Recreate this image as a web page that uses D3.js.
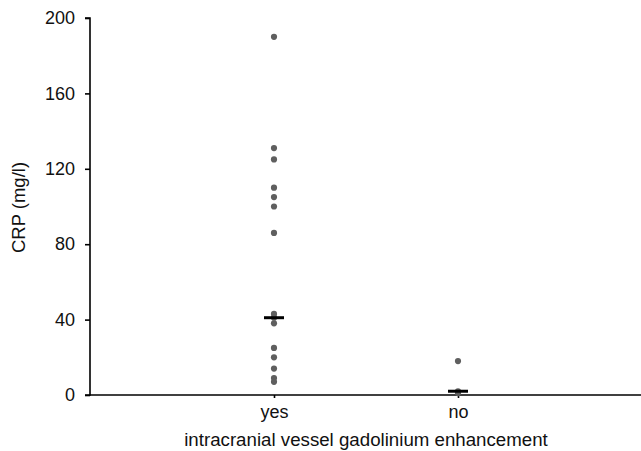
<!DOCTYPE html>
<html>
<head>
<meta charset="utf-8">
<script src="https://cdn.jsdelivr.net/npm/d3@7"></script>
<style>
html,body{margin:0;padding:0;background:#fff;}
svg{display:block;font-family:"Liberation Sans",Arial,sans-serif;}
</style>
</head>
<body>
<svg id="chart" width="641" height="451"></svg>
<script>
const categories = ["yes", "no"];
const yesValues = [190, 131, 125, 110, 105, 100, 86, 43, 41, 38, 25, 20, 14, 9, 7];
const noValues = [18, 2, 1];
const medians = [41, 2];
const yTicks = [0, 40, 80, 120, 160, 200];
const yLabel = "CRP (mg/l)";
const xLabel = "intracranial vessel gadolinium enhancement";

const svg = d3.select("#chart");
const mLeft = 90, mRight = 642, mTop = 18, mBottom = 395;
const fs = 18;

const x = d3.scalePoint().domain(categories).range([mLeft, mRight]).padding(1);
const y = d3.scaleLinear().domain([0, 200]).range([mBottom, mTop]);

// y axis
const yAxis = svg.append("g").attr("transform", `translate(${mLeft},0)`)
  .call(d3.axisLeft(y).tickValues(yTicks).tickSize(5).tickPadding(10).tickFormat(d3.format("d")));
yAxis.selectAll("path,line").attr("stroke", "#000").attr("stroke-width", 1.6);
yAxis.select(".domain").attr("d", `M-5,${y(0)}H0V${mTop}H-5`);
yAxis.selectAll("text").attr("font-size", fs).attr("fill", "#111").attr("font-family", "Liberation Sans, Arial, sans-serif");

// x axis
const xAxis = svg.append("g").attr("transform", `translate(0,${mBottom})`)
  .call(d3.axisBottom(x).tickSize(3).tickPadding(7).tickSizeOuter(0));
xAxis.select(".domain").attr("d", `M${mLeft},0H${mRight}`);
xAxis.selectAll("path,line").attr("stroke", "#000").attr("stroke-width", 1.6);
xAxis.selectAll("text").attr("font-size", fs).attr("fill", "#111").attr("font-family", "Liberation Sans, Arial, sans-serif");

// points
const groups = [yesValues, noValues];
groups.forEach((vals, i) => {
  svg.append("g").selectAll("circle").data(vals).join("circle")
    .attr("cx", x(categories[i]))
    .attr("cy", d => y(d))
    .attr("r", 3.1)
    .attr("fill", "#5f5f5f");
});

// medians
svg.append("g").selectAll("line").data(medians).join("line")
  .attr("x1", (d, i) => x(categories[i]) - 10)
  .attr("x2", (d, i) => x(categories[i]) + 10)
  .attr("y1", d => y(d))
  .attr("y2", d => y(d))
  .attr("stroke", "#000")
  .attr("stroke-width", 3);

// axis labels
svg.append("text")
  .attr("transform", `translate(25,${(mTop + mBottom) / 2 + 1}) rotate(-90)`)
  .attr("text-anchor", "middle")
  .attr("font-size", 18.5)
  .attr("fill", "#111")
  .text(yLabel);

svg.append("text")
  .attr("x", (x("yes") + x("no")) / 2)
  .attr("y", 446)
  .attr("text-anchor", "middle")
  .attr("font-size", 18.7)
  .attr("fill", "#111")
  .text(xLabel);
</script>
</body>
</html>
